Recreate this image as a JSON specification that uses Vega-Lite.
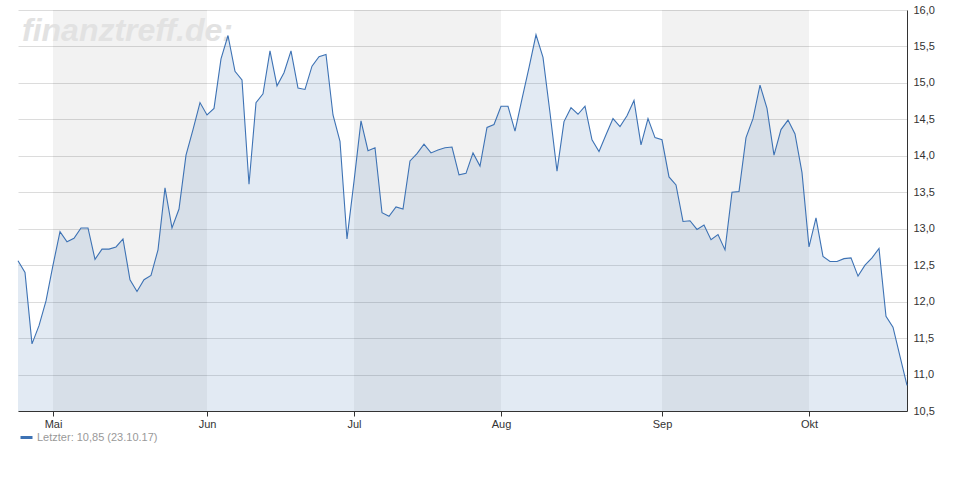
{
  "$schema": "https://vega.github.io/schema/vega-lite/v6.json",
  "autosize": {"type": "none"},
  "width": 889,
  "height": 401,
  "padding": {"left": 18, "top": 10, "right": 63, "bottom": 89},
  "background": "white",
  "config": {
    "view": {"stroke": null},
    "font": "Liberation Sans"
  },
  "datasets": {
    "prices": [
      {"date": "2017-04-24", "close": 12.56}, {"date": "2017-04-25", "close": 12.40}, {"date": "2017-04-26", "close": 11.42}, {"date": "2017-04-27", "close": 11.67}, {"date": "2017-04-28", "close": 12.01},
      {"date": "2017-05-02", "close": 12.50}, {"date": "2017-05-03", "close": 12.96}, {"date": "2017-05-04", "close": 12.82}, {"date": "2017-05-05", "close": 12.87},
      {"date": "2017-05-08", "close": 13.01}, {"date": "2017-05-09", "close": 13.01}, {"date": "2017-05-10", "close": 12.58}, {"date": "2017-05-11", "close": 12.72}, {"date": "2017-05-12", "close": 12.72},
      {"date": "2017-05-15", "close": 12.75}, {"date": "2017-05-16", "close": 12.86}, {"date": "2017-05-17", "close": 12.30}, {"date": "2017-05-18", "close": 12.14}, {"date": "2017-05-19", "close": 12.30},
      {"date": "2017-05-22", "close": 12.36}, {"date": "2017-05-23", "close": 12.71}, {"date": "2017-05-24", "close": 13.56}, {"date": "2017-05-25", "close": 13.01}, {"date": "2017-05-26", "close": 13.27},
      {"date": "2017-05-29", "close": 14.01}, {"date": "2017-05-30", "close": 14.36}, {"date": "2017-05-31", "close": 14.73},
      {"date": "2017-06-01", "close": 14.56}, {"date": "2017-06-02", "close": 14.65},
      {"date": "2017-06-06", "close": 15.33}, {"date": "2017-06-07", "close": 15.65}, {"date": "2017-06-08", "close": 15.16}, {"date": "2017-06-09", "close": 15.04},
      {"date": "2017-06-12", "close": 13.61}, {"date": "2017-06-13", "close": 14.73}, {"date": "2017-06-14", "close": 14.85}, {"date": "2017-06-15", "close": 15.44}, {"date": "2017-06-16", "close": 14.96},
      {"date": "2017-06-19", "close": 15.14}, {"date": "2017-06-20", "close": 15.44}, {"date": "2017-06-21", "close": 14.93}, {"date": "2017-06-22", "close": 14.91}, {"date": "2017-06-23", "close": 15.23},
      {"date": "2017-06-26", "close": 15.36}, {"date": "2017-06-27", "close": 15.39}, {"date": "2017-06-28", "close": 14.56}, {"date": "2017-06-29", "close": 14.20}, {"date": "2017-06-30", "close": 12.86},
      {"date": "2017-07-03", "close": 13.65}, {"date": "2017-07-04", "close": 14.48}, {"date": "2017-07-05", "close": 14.07}, {"date": "2017-07-06", "close": 14.11}, {"date": "2017-07-07", "close": 13.22},
      {"date": "2017-07-10", "close": 13.17}, {"date": "2017-07-11", "close": 13.30}, {"date": "2017-07-12", "close": 13.27}, {"date": "2017-07-13", "close": 13.93}, {"date": "2017-07-14", "close": 14.03},
      {"date": "2017-07-17", "close": 14.16}, {"date": "2017-07-18", "close": 14.04}, {"date": "2017-07-19", "close": 14.08}, {"date": "2017-07-20", "close": 14.11}, {"date": "2017-07-21", "close": 14.12},
      {"date": "2017-07-24", "close": 13.74}, {"date": "2017-07-25", "close": 13.76}, {"date": "2017-07-26", "close": 14.04}, {"date": "2017-07-27", "close": 13.86}, {"date": "2017-07-28", "close": 14.39},
      {"date": "2017-07-31", "close": 14.43},
      {"date": "2017-08-01", "close": 14.68}, {"date": "2017-08-02", "close": 14.68}, {"date": "2017-08-03", "close": 14.34}, {"date": "2017-08-04", "close": 14.78},
      {"date": "2017-08-07", "close": 15.21}, {"date": "2017-08-08", "close": 15.66}, {"date": "2017-08-09", "close": 15.35}, {"date": "2017-08-10", "close": 14.59}, {"date": "2017-08-11", "close": 13.79},
      {"date": "2017-08-14", "close": 14.47}, {"date": "2017-08-15", "close": 14.66}, {"date": "2017-08-16", "close": 14.57}, {"date": "2017-08-17", "close": 14.68}, {"date": "2017-08-18", "close": 14.22},
      {"date": "2017-08-21", "close": 14.06}, {"date": "2017-08-22", "close": 14.29}, {"date": "2017-08-23", "close": 14.51}, {"date": "2017-08-24", "close": 14.40}, {"date": "2017-08-25", "close": 14.55},
      {"date": "2017-08-28", "close": 14.76}, {"date": "2017-08-29", "close": 14.15}, {"date": "2017-08-30", "close": 14.51}, {"date": "2017-08-31", "close": 14.25},
      {"date": "2017-09-01", "close": 14.22},
      {"date": "2017-09-04", "close": 13.71}, {"date": "2017-09-05", "close": 13.60}, {"date": "2017-09-06", "close": 13.10}, {"date": "2017-09-07", "close": 13.11}, {"date": "2017-09-08", "close": 12.99},
      {"date": "2017-09-11", "close": 13.05}, {"date": "2017-09-12", "close": 12.85}, {"date": "2017-09-13", "close": 12.92}, {"date": "2017-09-14", "close": 12.71}, {"date": "2017-09-15", "close": 13.50},
      {"date": "2017-09-18", "close": 13.51}, {"date": "2017-09-19", "close": 14.25}, {"date": "2017-09-20", "close": 14.51}, {"date": "2017-09-21", "close": 14.97}, {"date": "2017-09-22", "close": 14.65},
      {"date": "2017-09-25", "close": 14.01}, {"date": "2017-09-26", "close": 14.36}, {"date": "2017-09-27", "close": 14.49}, {"date": "2017-09-28", "close": 14.30}, {"date": "2017-09-29", "close": 13.77},
      {"date": "2017-10-02", "close": 12.75}, {"date": "2017-10-04", "close": 13.15}, {"date": "2017-10-05", "close": 12.62}, {"date": "2017-10-06", "close": 12.55},
      {"date": "2017-10-09", "close": 12.55}, {"date": "2017-10-10", "close": 12.59}, {"date": "2017-10-11", "close": 12.60}, {"date": "2017-10-12", "close": 12.35}, {"date": "2017-10-13", "close": 12.50},
      {"date": "2017-10-16", "close": 12.60}, {"date": "2017-10-17", "close": 12.73}, {"date": "2017-10-18", "close": 11.80}, {"date": "2017-10-19", "close": 11.65}, {"date": "2017-10-20", "close": 11.25},
      {"date": "2017-10-23", "close": 10.85}
    ],
    "bands": [
      {"start": "2017-05-02", "end": "2017-06-01"},
      {"start": "2017-07-03", "end": "2017-08-01"},
      {"start": "2017-09-01", "end": "2017-10-02"}
    ],
    "mark": [
      {"label": "finanztreff.de:"}
    ]
  },
  "layer": [
    {
      "data": {"name": "bands"},
      "mark": {"type": "rect", "fill": "black", "fillOpacity": 0.051},
      "encoding": {
        "x": {"field": "start", "type": "ordinal"},
        "x2": {"field": "end"}
      }
    },
    {
      "data": {"name": "mark"},
      "mark": {"type": "text", "font": "Liberation Sans", "fontWeight": "bold", "fontStyle": "italic", "fontSize": 32, "color": "#e2e2e2", "align": "left", "baseline": "alphabetic", "dx": 4},
      "encoding": {
        "x": {"datum": "2017-04-24", "type": "ordinal"},
        "y": {"datum": 15.57, "type": "quantitative"},
        "text": {"field": "label"}
      }
    },
    {
      "data": {"name": "prices"},
      "mark": {"type": "area", "fill": "#4a7ab5", "fillOpacity": 0.16},
      "encoding": {
        "x": {"field": "date", "type": "ordinal"},
        "y": {"field": "close", "type": "quantitative"},
        "y2": {"datum": 10.5}
      }
    },
    {
      "data": {"name": "prices"},
      "mark": {"type": "line", "strokeWidth": 1.1},
      "encoding": {
        "x": {
          "field": "date",
          "type": "ordinal",
          "scale": {"type": "point", "padding": 0},
          "axis": {
            "title": null,
            "values": ["2017-05-02", "2017-06-01", "2017-07-03", "2017-08-01", "2017-09-01", "2017-10-02"],
            "labelExpr": "['','Jan','Feb','Mär','Apr','Mai','Jun','Jul','Aug','Sep','Okt','Nov','Dez'][toNumber(substring(datum.value,5,7))]",
            "labelAngle": 0,
            "labelAlign": "center",
            "labelBaseline": "top",
            "labelOverlap": false,
            "labelFont": "Liberation Sans",
            "labelFontSize": 11,
            "labelColor": "#333333",
            "labelPadding": 2,
            "domainColor": "#333333",
            "tickColor": "#333333",
            "tickSize": 5,
            "grid": false
          }
        },
        "y": {
          "field": "close",
          "type": "quantitative",
          "scale": {"domain": [10.5, 16], "nice": false, "zero": false},
          "axis": {
            "orient": "right",
            "title": null,
            "values": [10.5, 11, 11.5, 12, 12.5, 13, 13.5, 14, 14.5, 15, 15.5, 16],
            "tickCount": 24,
            "labelExpr": "replace(format(datum.value, '.1f'), '.', ',')",
            "labelOverlap": false,
            "labelFont": "Liberation Sans",
            "labelFontSize": 11,
            "labelColor": "#333333",
            "labelPadding": 6,
            "ticks": false,
            "domainColor": "#333333",
            "gridColor": "#dcdcdc",
            "grid": true
          }
        },
        "color": {
          "datum": "Letzter: 10,85 (23.10.17)",
          "scale": {"range": ["#3d72b4"]},
          "legend": {
            "title": null,
            "orient": "none",
            "legendX": 1,
            "legendY": 420,
            "symbolType": "stroke",
            "symbolStrokeWidth": 3,
            "symbolSize": 144,
            "labelFont": "Liberation Sans",
            "labelFontSize": 11,
            "labelColor": "#999999",
            "labelOffset": 3
          }
        }
      }
    }
  ]
}
